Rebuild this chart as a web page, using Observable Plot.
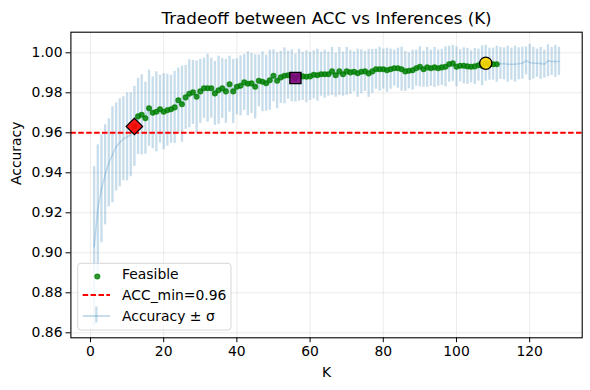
<!DOCTYPE html>
<html>
<head>
<meta charset="utf-8">
<script src="https://cdn.jsdelivr.net/npm/d3@7"></script>
<script src="https://cdn.jsdelivr.net/npm/@observablehq/plot@0.6"></script>
<style>
  html, body { margin: 0; padding: 0; background: #fff; }
  svg { display: block; }
</style>
</head>
<body>
<div id="chart"></div>
<script>
// ---- data ----
const accMean = [
  0.903, 0.922, 0.932, 0.939, 0.945, 0.949, 0.953, 0.955, 0.957, 0.958,
  0.959, 0.9632, 0.9682, 0.9690, 0.9673, 0.9723, 0.9700, 0.9705, 0.9718, 0.9705,
  0.9713, 0.9718, 0.9727, 0.9763, 0.9743, 0.9777, 0.9795, 0.9802, 0.9780, 0.9807,
  0.9823, 0.9823, 0.9823, 0.9797, 0.9813, 0.9822, 0.9807, 0.9843, 0.9807, 0.9830,
  0.9835, 0.9852, 0.9845, 0.9847, 0.9830, 0.9860, 0.9855, 0.9848, 0.9863, 0.9885,
  0.9860, 0.9877, 0.9885, 0.9888, 0.9885, 0.9874, 0.9888, 0.9882, 0.9880, 0.9882,
  0.9890, 0.9888, 0.9893, 0.9893, 0.9893, 0.9907, 0.9888, 0.9907, 0.9893, 0.9907,
  0.9902, 0.9905, 0.9898, 0.9905, 0.9907, 0.9897, 0.9907, 0.9918, 0.9918, 0.9918,
  0.9913, 0.9918, 0.9923, 0.9923, 0.9918, 0.9907, 0.9910, 0.9913, 0.9923, 0.9930,
  0.9918, 0.9927, 0.9923, 0.9927, 0.9923, 0.9927, 0.9930, 0.9943, 0.9947, 0.9930,
  0.9935, 0.9935, 0.9932, 0.9930, 0.9932, 0.9938, 0.9935, 0.9948, 0.9943, 0.9943,
  0.9943, 0.9947, 0.9945, 0.9943, 0.9943, 0.9943, 0.9945, 0.9948, 0.9960, 0.9952,
  0.9948, 0.9948, 0.9947, 0.9943, 0.9960, 0.9957, 0.9957, 0.9957
];
const accStd = [
  0.040, 0.032, 0.027, 0.025, 0.022, 0.024, 0.022, 0.022, 0.021, 0.022,
  0.021, 0.020, 0.019, 0.020, 0.018, 0.019, 0.018, 0.020, 0.017, 0.019,
  0.018, 0.017, 0.018, 0.016, 0.019, 0.016, 0.017, 0.016, 0.018, 0.016,
  0.015, 0.017, 0.015, 0.016, 0.017, 0.015, 0.016, 0.014, 0.016, 0.014,
  0.015, 0.014, 0.016, 0.015, 0.016, 0.013, 0.015, 0.014, 0.015, 0.013,
  0.014, 0.013, 0.014, 0.012, 0.013, 0.012, 0.013, 0.012, 0.013, 0.012,
  0.012, 0.013, 0.011, 0.012, 0.011, 0.012, 0.011, 0.012, 0.011, 0.012,
  0.011, 0.010, 0.012, 0.011, 0.010, 0.012, 0.011, 0.010, 0.011, 0.010,
  0.011, 0.010, 0.009, 0.010, 0.011, 0.010, 0.009, 0.010, 0.009, 0.010,
  0.009, 0.010, 0.009, 0.010, 0.009, 0.009, 0.010, 0.009, 0.009, 0.010,
  0.008, 0.009, 0.009, 0.008, 0.009, 0.008, 0.010, 0.009, 0.008, 0.008,
  0.009, 0.008, 0.008, 0.009, 0.008, 0.009, 0.008, 0.008, 0.007, 0.009,
  0.008, 0.007, 0.008, 0.007, 0.008, 0.007, 0.008, 0.007
];
const kValues = accMean.map((_, i) => i + 1);
const accMin = 0.96;
const kBudget = 111;          // last K shown as feasible
const kMinFeasible = 12;      // red diamond
const kKnee = 56;             // purple square
const kBestAcc = 108;         // yellow circle
const xTicks = [0, 20, 40, 60, 80, 100, 120];
const yTicks = [0.86, 0.88, 0.90, 0.92, 0.94, 0.96, 0.98, 1.00];
const titleText = "Tradeoff between ACC vs Inferences (K)";
const xLabel = "K";
const yLabel = "Accuracy";
const legendLabels = ["Feasible", "ACC_min=0.96", "Accuracy \u00b1 \u03c3"];

// ---- build ----
const rows = kValues.map((k, i) => ({k, acc: accMean[i], sd: accStd[i]}));
const feasible = rows.filter(d => d.acc >= accMin && d.k <= kBudget);
const pick = k => rows.filter(d => d.k === k);

const FONT = "DejaVu Sans, Liberation Sans, sans-serif";
const blue = "#1f77b4";

const plot = Plot.plot({
  width: 590,
  height: 390,
  marginLeft: 70.4,
  marginRight: 8.3,
  marginTop: 31.7,
  marginBottom: 52.7,
  style: {fontFamily: FONT, fontSize: "13.9px", color: "black", background: "white"},
  x: {domain: [-5.35, 134.35]},
  y: {domain: [0.8575, 1.0103]},
  marks: [
    Plot.gridX(xTicks, {stroke: "#b0b0b0", strokeOpacity: 0.3, strokeWidth: 0.8}),
    Plot.gridY(yTicks, {stroke: "#b0b0b0", strokeOpacity: 0.3, strokeWidth: 0.8}),
    Plot.ruleX(rows, {x: "k", y1: d => d.acc - d.sd, y2: d => d.acc + d.sd,
      stroke: blue, strokeOpacity: 0.25, strokeWidth: 2.3}),
    Plot.line(rows, {x: "k", y: "acc", stroke: blue, strokeOpacity: 0.25, strokeWidth: 1.5}),
    Plot.dot(feasible, {x: "k", y: "acc", r: 2.4, fill: "green", fillOpacity: 0.8,
      stroke: "green", strokeOpacity: 0.8, strokeWidth: 1.3}),
    Plot.ruleY([accMin], {stroke: "red", strokeWidth: 2, strokeDasharray: "5.5,2.4"}),
    Plot.dot(pick(kMinFeasible), {x: "k", y: "acc", symbol: "diamond2", r: 7.4,
      fill: "red", fillOpacity: 0.9, stroke: "black", strokeWidth: 1.3}),
    Plot.dot(pick(kKnee), {x: "k", y: "acc", symbol: "square", r: 6.3,
      fill: "purple", fillOpacity: 0.9, stroke: "black", strokeWidth: 1.3}),
    Plot.dot(pick(kBestAcc), {x: "k", y: "acc", symbol: "circle", r: 6.1,
      fill: "gold", fillOpacity: 0.9, stroke: "black", strokeWidth: 1.3}),
    Plot.frame({stroke: "black", strokeWidth: 1.1}),
    Plot.axisX({ticks: xTicks, tickSize: 4.9, tickPadding: 3.5, tickFormat: d => String(d),
      label: null, fontSize: 13.9}),
    Plot.axisY({ticks: yTicks, tickSize: 4.9, tickPadding: 3.5, tickFormat: d3.format(".2f"),
      label: null, fontSize: 13.9}),
    Plot.text([titleText], {frameAnchor: "top", dy: -14, fontSize: 16.7, fill: "black",
      lineAnchor: "middle", text: d => d}),
    Plot.text([xLabel], {frameAnchor: "bottom", dy: 35, fontSize: 13.9, fill: "black",
      lineAnchor: "middle", text: d => d}),
    Plot.text([yLabel], {frameAnchor: "left", dx: -54.5, rotate: -90, fontSize: 13.9, fill: "black",
      lineAnchor: "middle", text: d => d})
  ]
});

document.getElementById("chart").appendChild(plot);

// ---- legend (lower-left, matplotlib style) ----
const svg = d3.select(plot);
const lg = svg.append("g").attr("font-family", FONT).attr("font-size", "13.9px")
  .attr("text-anchor", "start");
lg.append("rect")
  .attr("x", 77.7).attr("y", 263.3).attr("width", 153.3).attr("height", 66.7)
  .attr("rx", 3).attr("fill", "white").attr("fill-opacity", 0.8)
  .attr("stroke", "#cccccc").attr("stroke-opacity", 0.8).attr("stroke-width", 1);
const rowY = [274.5, 295, 316];
// Feasible
lg.append("circle").attr("cx", 97.3).attr("cy", rowY[0] + 2).attr("r", 2.4)
  .attr("fill", "green").attr("fill-opacity", 0.8)
  .attr("stroke", "green").attr("stroke-opacity", 0.8).attr("stroke-width", 1.3);
// ACC_min
lg.append("line").attr("x1", 82.7).attr("x2", 110).attr("y1", rowY[1]).attr("y2", rowY[1])
  .attr("stroke", "red").attr("stroke-width", 2).attr("stroke-dasharray", "5.5,2.4");
// Accuracy ± σ
lg.append("line").attr("x1", 82.7).attr("x2", 110).attr("y1", rowY[2]).attr("y2", rowY[2])
  .attr("stroke", blue).attr("stroke-opacity", 0.25).attr("stroke-width", 2);
lg.append("line").attr("x1", 96.4).attr("x2", 96.4).attr("y1", rowY[2] - 9.5).attr("y2", rowY[2] + 6.5)
  .attr("stroke", blue).attr("stroke-opacity", 0.25).attr("stroke-width", 2.3);
legendLabels.forEach((t, i) => {
  lg.append("text").attr("x", 122).attr("y", rowY[i]).attr("dy", "0.35em")
    .attr("text-anchor", "start").attr("fill", "black").text(t);
});
</script>
</body>
</html>
